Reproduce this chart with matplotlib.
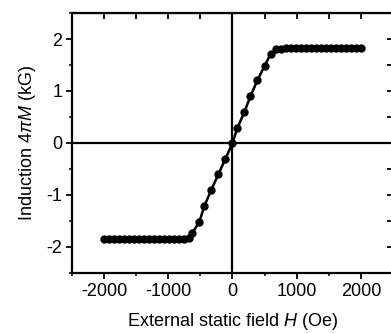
import matplotlib
matplotlib.use("Agg")
import matplotlib.pyplot as plt
from matplotlib.ticker import MultipleLocator

plt.rcParams["font.family"] = "Liberation Sans"
plt.rcParams["mathtext.fontset"] = "custom"
plt.rcParams["mathtext.rm"] = "Liberation Sans"
plt.rcParams["mathtext.it"] = "Liberation Sans:italic"
plt.rcParams["axes.unicode_minus"] = False

# External field H (Oe) and induction 4piM (kG)
H_neg_flat = [-2000, -1922, -1843, -1765, -1687, -1609, -1531, -1453, -1375,
              -1297, -1218, -1140, -1062, -984, -906, -828, -750, -680]
M_neg_flat = [-1.85, -1.85, -1.85, -1.85, -1.85, -1.85, -1.85, -1.85, -1.85,
              -1.85, -1.85, -1.85, -1.85, -1.84, -1.84, -1.84, -1.84, -1.83]
H_slope = [-625, -516, -437, -328, -219, -110, 0, 78, 187, 281, 390, 500, 594]
M_slope = [-1.73, -1.52, -1.21, -0.90, -0.60, -0.31, 0.0, 0.29, 0.60, 0.90,
           1.21, 1.48, 1.71]
H_pos_flat = [672, 750, 828, 906, 984, 1062, 1140, 1218, 1297, 1375, 1453,
              1531, 1609, 1687, 1765, 1843, 1922, 2000]
M_pos_flat = [1.80, 1.81, 1.82, 1.82, 1.82, 1.82, 1.82, 1.82, 1.82, 1.82,
              1.82, 1.82, 1.82, 1.82, 1.82, 1.82, 1.82, 1.82]

H = H_neg_flat + H_slope + H_pos_flat
M = M_neg_flat + M_slope + M_pos_flat

fig = plt.figure(figsize=(3.91, 3.34), dpi=100)
ax = fig.add_axes([0.184, 0.183, 0.821, 0.778])

ax.axhline(0, color="black", lw=1.6, zorder=1)
ax.axvline(0, color="black", lw=1.6, zorder=1)
ax.plot(H, M, "-o", color="black", lw=1.8, markersize=5, zorder=3)

ax.set_xlim(-2500, 2500)
ax.set_ylim(-2.5, 2.5)
ax.xaxis.set_major_locator(MultipleLocator(1000))
ax.xaxis.set_minor_locator(MultipleLocator(500))
ax.yaxis.set_major_locator(MultipleLocator(1))
ax.yaxis.set_minor_locator(MultipleLocator(0.5))
ax.tick_params(which="major", direction="out", length=4, width=1.3,
               labelsize=13, pad=3)
ax.tick_params(which="minor", direction="out", length=2.5, width=1.1)
for s in ax.spines.values():
    s.set_linewidth(1.6)

# inward ticks on top and right
top = ax.secondary_xaxis("top")
top.xaxis.set_major_locator(MultipleLocator(500))
top.tick_params(direction="in", length=4, width=1.3, labeltop=False)
right = ax.secondary_yaxis("right")
right.yaxis.set_major_locator(MultipleLocator(0.5))
right.tick_params(direction="in", length=4, width=1.3, labelright=False)

ax.set_xlabel("External static field $H$ (Oe)", fontsize=13, labelpad=8)
ax.set_ylabel("Induction $4\\pi M$ (kG)", fontsize=13, labelpad=6)

fig.savefig("out.png", dpi=100)
